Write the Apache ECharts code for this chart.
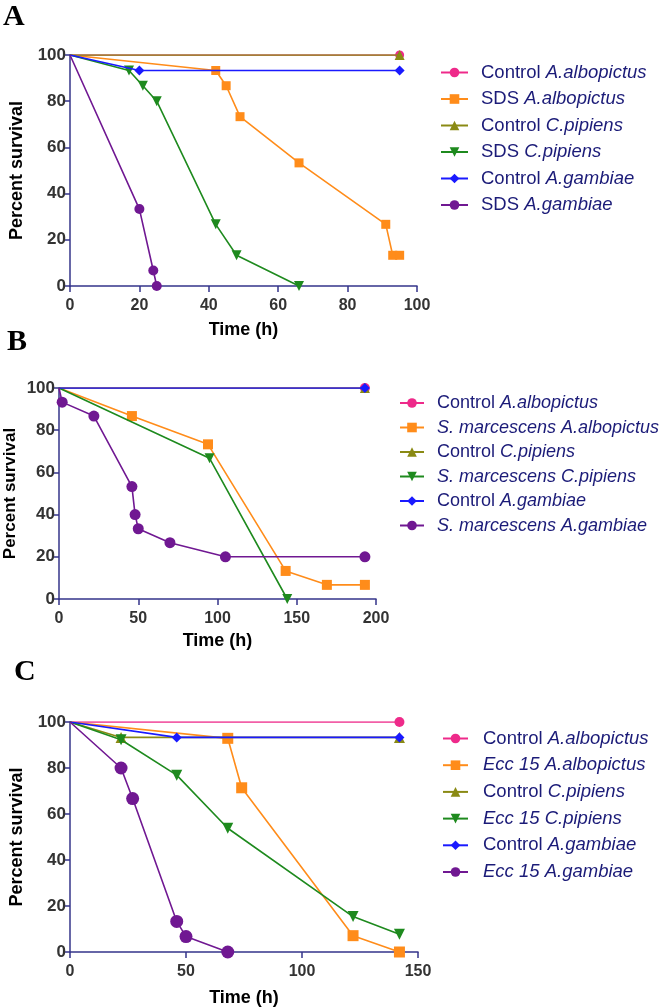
<!DOCTYPE html>
<html>
<head>
<meta charset="utf-8">
<script src="https://cdn.jsdelivr.net/npm/echarts@6/dist/echarts.min.js"></script>
<style>
  html, body { margin: 0; padding: 0; background: #fff; }
  #chart { width: 659px; height: 1008px; }
</style>
</head>
<body>
<div id="chart"></div>
<script>
// legend text pieces (treatment, species) for each panel
const speciesNames = ['A.albopictus', 'A.albopictus', 'C.pipiens', 'C.pipiens', 'A.gambiae', 'A.gambiae'];
const treatA = ['Control', 'SDS', 'Control', 'SDS', 'Control', 'SDS'];
const treatB = ['Control', 'S. marcescens', 'Control', 'S. marcescens', 'Control', 'S. marcescens'];
const treatC = ['Control', 'Ecc 15', 'Control', 'Ecc 15', 'Control', 'Ecc 15'];
const italicTreat = ['S. marcescens', 'Ecc 15'];

// axis ticks
const yTicks = [0, 20, 40, 60, 80, 100];
const xMaxA = 100, xStepA = 20;
const xMaxB = 200, xStepB = 50;
const xMaxC = 150, xStepC = 50;

// panel A: [time (h), percent survival]
const aCtrlAlbo = [[0, 100], [95, 100]];
const aSdsAlbo = [[0, 100], [42, 93.3], [45, 86.7], [49, 73.3], [66, 53.3], [91, 26.7], [93, 13.3], [95, 13.3]];
const aCtrlPip = [[0, 100], [95, 100]];
const aSdsPip = [[0, 100], [17, 93.3], [21, 86.7], [25, 80], [42, 26.7], [48, 13.3], [66, 0]];
const aCtrlGam = [[0, 100], [20, 93.3], [95, 93.3]];
const aSdsGam = [[0, 100], [20, 33.3], [24, 6.7], [25, 0]];

// panel B
const bCtrlAlbo = [[0, 100], [193, 100]];
const bSmAlbo = [[0, 100], [46, 86.7], [94, 73.3], [143, 13.3], [169, 6.7], [193, 6.7]];
const bCtrlPip = [[0, 100], [193, 100]];
const bSmPip = [[0, 100], [95, 66.7], [144, 0]];
const bCtrlGam = [[0, 100], [193, 100]];
const bSmGam = [[0, 100], [2, 93.3], [22, 86.7], [46, 53.3], [48, 40], [50, 33.3], [70, 26.7], [105, 20], [193, 20]];

// panel C
const cCtrlAlbo = [[0, 100], [142, 100]];
const cEccAlbo = [[0, 100], [68, 92.9], [74, 71.4], [122, 7.1], [142, 0]];
const cCtrlPip = [[0, 100], [22, 93.3], [142, 93.3]];
const cEccPip = [[0, 100], [22, 92.3], [46, 76.9], [68, 53.8], [122, 15.4], [142, 7.7]];
const cCtrlGam = [[0, 100], [46, 93.3], [142, 93.3]];
const cEccGam = [[0, 100], [22, 80], [27, 66.7], [46, 13.3], [50, 6.7], [68, 0]];

const colors = ['#ee2a8a', '#ff8c1a', '#8a8a14', '#1e8a1e', '#1a1aff', '#701892'];
const symbols = ['circle', 'rect', 'triangle', 'triangle', 'diamond', 'circle'];
const rotations = [0, 0, 0, 180, 0, 0];
const axisColor = '#34348a';
const legendColor = '#1b1b78';
const sans = 'Liberation Sans, Arial, sans-serif';

const chart = echarts.init(document.getElementById('chart'));

function makeSeries(panel, idx, datasets, treats, sizes) {
  return datasets.map((d, i) => ({
    type: 'line',
    name: panel + '|' + treats[i] + '|' + speciesNames[i],
    xAxisIndex: idx,
    yAxisIndex: idx,
    data: d,
    color: colors[i],
    symbol: symbols[i],
    symbolRotate: rotations[i],
    symbolSize: (v) => (v[0] === 0 ? 0 : sizes[i]),
    showAllSymbol: true,
    lineStyle: { width: 1.6, color: colors[i] },
    itemStyle: { color: colors[i] },
    animation: false,
    z: 2 + i
  }));
}

function legendFormatter(name) {
  const parts = name.split('|');
  const t = parts[1];
  const tStyle = italicTreat.indexOf(t) >= 0 ? 'i' : 'n';
  return '{' + tStyle + '|' + t + '} {i|' + parts[2] + '}';
}

function makeLegend(panel, treats, left, top, width, gap, textPad, fs) {
  return {
    orient: 'vertical',
    left: left,
    top: top,
    itemWidth: width,
    itemHeight: 12,
    itemGap: gap,
    selectedMode: false,
    data: treats.map((t, i) => panel + '|' + t + '|' + speciesNames[i]),
    formatter: legendFormatter,
    textStyle: {
      color: legendColor,
      fontSize: fs,
      fontFamily: sans,
      padding: [0, 0, 0, textPad],
      rich: {
        n: { fontStyle: 'normal', fontSize: fs, color: legendColor, fontFamily: sans },
        i: { fontStyle: 'italic', fontSize: fs, color: legendColor, fontFamily: sans }
      }
    }
  };
}

function xAxis(idx, max, step, gap) {
  return {
    type: 'value', gridIndex: idx, min: 0, max: max, interval: step,
    name: 'Time (h)', nameLocation: 'middle', nameGap: gap,
    nameTextStyle: { color: '#000', fontWeight: 'bold', fontSize: 18, fontFamily: sans, verticalAlign: 'top' },
    axisLine: { show: true, onZero: false, lineStyle: { color: axisColor, width: 1.5 } },
    axisTick: { show: true, length: 6, lineStyle: { color: axisColor, width: 1.5 } },
    axisLabel: { margin: 12, color: '#333', fontWeight: 'bold', fontSize: 16, fontFamily: sans },
    splitLine: { show: false }
  };
}
function yAxis(idx, gap, fs) {
  return {
    type: 'value', gridIndex: idx, min: yTicks[0], max: yTicks[yTicks.length - 1], interval: yTicks[1] - yTicks[0],
    name: 'Percent survival', nameLocation: 'middle', nameGap: gap,
    nameTextStyle: { color: '#000', fontWeight: 'bold', fontSize: fs, fontFamily: sans },
    axisLine: { show: true, onZero: false, lineStyle: { color: axisColor, width: 1.5 } },
    axisTick: { show: true, length: 5, lineStyle: { color: axisColor, width: 1.5 } },
    axisLabel: { margin: 4, color: '#333', fontWeight: 'bold', fontSize: 17, fontFamily: sans },
    splitLine: { show: false }
  };
}

const letterFont = 'bold 30px "Liberation Serif", "Times New Roman", serif';

const option = {
  backgroundColor: '#fff',
  animation: false,
  grid: [
    { left: 68, top: 55, width: 349, height: 231 },
    { left: 59, top: 388, width: 317, height: 211 },
    { left: 70, top: 722, width: 348, height: 231 }
  ],
  xAxis: [xAxis(0, xMaxA, xStepA, 35), xAxis(1, xMaxB, xStepB, 33), xAxis(2, xMaxC, xStepC, 37)],
  yAxis: [yAxis(0, 44, 18), yAxis(1, 40, 17), yAxis(2, 44, 18)],
  legend: [
    makeLegend('A', treatA, 435, 58, 27, 7.5, 8, 18.5),
    makeLegend('B', treatB, 394, 389, 24, 6.5, 8, 18),
    makeLegend('C', treatC, 437, 724, 25, 7.7, 10, 18.5)
  ],
  graphic: [
    { type: 'text', left: 3, top: 2, style: { text: 'A', font: letterFont, fill: '#000' } },
    { type: 'text', left: 7, top: 327, style: { text: 'B', font: letterFont, fill: '#000' } },
    { type: 'text', left: 14, top: 657, style: { text: 'C', font: letterFont, fill: '#000' } }
  ],
  series: [].concat(
    makeSeries('A', 0, [aCtrlAlbo, aSdsAlbo, aCtrlPip, aSdsPip, aCtrlGam, aSdsGam], treatA, [9, 9, 10, 10, 10, 10]),
    makeSeries('B', 1, [bCtrlAlbo, bSmAlbo, bCtrlPip, bSmPip, bCtrlGam, bSmGam], treatB, [10, 10, 10, 10, 10, 11]),
    makeSeries('C', 2, [cCtrlAlbo, cEccAlbo, cCtrlPip, cEccPip, cCtrlGam, cEccGam], treatC, [10, 11, 11, 11, 10, 13])
  )
};

chart.setOption(option);
</script>
</body>
</html>
